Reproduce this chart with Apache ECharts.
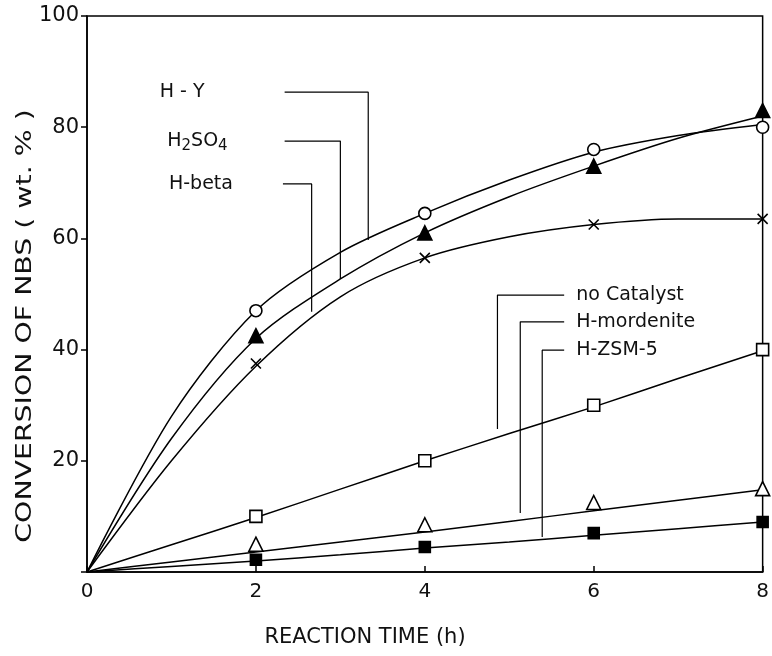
<!DOCTYPE html>
<html>
<head>
<meta charset="utf-8">
<script src="https://cdn.jsdelivr.net/npm/echarts@6/dist/echarts.min.js"></script>
<style>
  html, body { margin: 0; background: #fff; }
  #chart { width: 772px; height: 656px; }
</style>
</head>
<body>
<div id="chart"></div>
<script>
// reaction time (h)
const curveHours = [0, 1, 2, 3, 4, 5, 6, 7, 8]
const markerHours = [2, 4, 6, 8]

// measured points, conversion of NBS (wt.%)
const hyVals = [47, 64.5, 76, 80]
const h2so4Vals = [42.5, 61, 73, 83]
const betaVals = [37.5, 56.5, 62.5, 63.5]
const noCatVals = [10, 20, 30, 40]
const mordVals = [5, 8.5, 12.5, 15]
const zsmVals = [2.2, 4.5, 7, 9]

// drawn curves, every hour
const hyCurve = [0, 28, 47, 57.5, 64.5, 70.5, 75.5, 78.5, 80.5]
const h2so4Curve = [0, 24, 42, 52.7, 61, 67.5, 73, 78, 82]
const betaCurve = [0, 20, 37, 49.5, 56.5, 60.3, 62.5, 63.5, 63.5]
const noCatCurve = [0, 4.9, 9.8, 14.9, 20, 24.9, 29.7, 34.8, 39.8]
const mordCurve = [0, 1.8, 3.6, 5.4, 7.2, 9.1, 11, 12.9, 14.8]
const zsmCurve = [0, 1, 2, 3.1, 4.3, 5.4, 6.6, 7.8, 9]

// leader lines from the labels (data coords)
const hyLeader = [[2.34, 86.3], [3.33, 86.3], [3.33, 59.7]]
const h2so4Leader = [[2.34, 77.5], [3.0, 77.5], [3.0, 52.7]]
const betaLeader = [[2.32, 69.8], [2.66, 69.8], [2.66, 46.8]]
const noCatLeader = [[5.65, 49.8], [4.86, 49.8], [4.86, 25.7]]
const mordLeader = [[5.65, 45], [5.13, 45], [5.13, 10.6]]
const zsmLeader = [[5.65, 39.9], [5.39, 39.9], [5.39, 6.3]]

const xTicks = { min: 0, max: 8, interval: 2 }
const yTicks = { min: 0, max: 100, interval: 20 }

const FONT = 'DejaVu Sans'
const chart = echarts.init(document.getElementById('chart'))

const pair = (xs, ys) => xs.map((x, i) => [x, ys[i]])

const curve = (vals) => ({
  type: 'line',
  data: pair(curveHours, vals),
  smooth: 0.3,
  showSymbol: false,
  silent: true,
  lineStyle: { color: '#000', width: 1.5 },
  z: 2
})

const marks = (vals, symbol, size, fill) => ({
  type: 'scatter',
  data: pair(markerHours, vals),
  symbol: symbol,
  symbolSize: size,
  silent: true,
  itemStyle: { color: fill, borderColor: '#000', borderWidth: 1.6, opacity: 1 },
  z: 4
})

const labelStyle = {
  color: '#111',
  fontFamily: FONT,
  fontSize: 19,
  rich: {
    n: { fontFamily: FONT, fontSize: 19, color: '#111' },
    s: { fontFamily: FONT, fontSize: 15, color: '#111', padding: [11, 0, 0, 0] }
  }
}

const leader = (path, text, side, gap) => ({
  type: 'line',
  data: path.map((p, i) => i === 0 ? {
    value: p,
    label: { show: true, position: side, distance: gap, formatter: text, ...labelStyle }
  } : { value: p }),
  showSymbol: true,
  symbol: 'circle',
  symbolSize: 0,
  silent: true,
  label: { show: false },
  lineStyle: { color: '#000', width: 1.2 },
  z: 3
})

const cross = 'path://M0,0L10,10M10,0L0,10'

chart.setOption({
  animation: false,
  backgroundColor: '#fff',
  grid: {
    left: 87, right: 8, top: 16, bottom: 84,
    show: true, borderColor: '#000', borderWidth: 1.5
  },
  xAxis: {
    type: 'value',
    ...xTicks,
    axisLine: { lineStyle: { color: '#000', width: 1.5 } },
    axisTick: { inside: true, length: 6, lineStyle: { color: '#000', width: 1.5 } },
    axisLabel: { color: '#111', fontFamily: FONT, fontSize: 20, margin: 10 },
    splitLine: { show: false }
  },
  yAxis: {
    type: 'value',
    ...yTicks,
    axisLine: { show: true, lineStyle: { color: '#000', width: 1.5 } },
    axisTick: { show: true, length: 6, lineStyle: { color: '#000', width: 1.5 } },
    axisLabel: {
      color: '#111', fontFamily: FONT, fontSize: 21, margin: 8,
      formatter: v => v === 0 ? '' : String(v)
    },
    splitLine: { show: false }
  },
  graphic: [
    {
      type: 'text', x: 26, y: 326, rotation: Math.PI / 2, scaleX: 1.35,
      style: {
        text: 'CONVERSION OF NBS ( wt. % )', fill: '#111',
        font: '21px "DejaVu Sans"', align: 'center', verticalAlign: 'middle'
      }
    },
    {
      type: 'text', x: 365, y: 638,
      style: {
        text: 'REACTION TIME (h)', fill: '#111',
        font: '21px "DejaVu Sans"', align: 'center', verticalAlign: 'middle'
      }
    }
  ],
  series: [
    curve(hyCurve), curve(h2so4Curve), curve(betaCurve),
    curve(noCatCurve), curve(mordCurve), curve(zsmCurve),
    leader(hyLeader, '{n|H - Y}', 'left', 80),
    leader(h2so4Leader, '{n|H}{s|2}{n|SO}{s|4}', 'left', 57),
    leader(betaLeader, '{n|H-beta}', 'left', 50),
    leader(noCatLeader, '{n|no Catalyst}', 'right', 12),
    leader(mordLeader, '{n|H-mordenite}', 'right', 12),
    leader(zsmLeader, '{n|H-ZSM-5}', 'right', 12),
    marks(hyVals, 'circle', 12, '#fff'),
    marks(h2so4Vals, 'triangle', 14, '#000'),
    marks(betaVals, cross, 10, '#000'),
    marks(noCatVals, 'rect', 12, '#fff'),
    marks(mordVals, 'triangle', 14, '#fff'),
    marks(zsmVals, 'rect', 11, '#000')
  ]
})
</script>
</body>
</html>
